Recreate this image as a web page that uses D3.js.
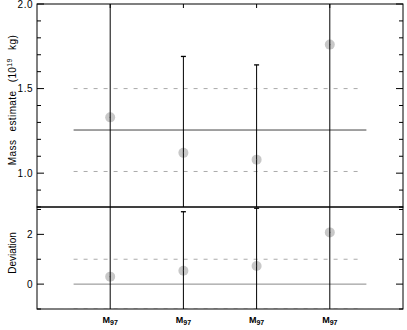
<!DOCTYPE html>
<html>
<head>
<meta charset="utf-8">
<script src="https://cdn.jsdelivr.net/npm/d3@7"></script>
<style>
  body { margin: 0; background: #fff; }
  text { font-family: "Liberation Sans", Arial, sans-serif; fill: #000; }
</style>
</head>
<body>
<svg id="chart"></svg>
<script>
var w = 407;
var h = 330;

// data
var categories = ['M97', 'M97', 'M97', 'M97'];
var mass = [1.33, 1.12, 1.08, 1.76];
var massErr = [0.9, 0.57, 0.56, 1.0];
var massMean = 1.255;
var massSpread = 0.245;
var dev = [0.3, 0.54, 0.73, 2.08];
var devErr = [3.5, 2.37, 2.32, 3.5];
var devMean = 0;
var devBand = 1;
var massTicks = [1.0, 1.5, 2.0];
var devTicks = [0, 2];

var padL = 37, padR = 403, padT = 4, padM = 207, padB = 309;

var svg = d3.select('#chart').attr('width', w).attr('height', h);

var x = d3.scaleLinear().domain([0, categories.length + 1]).range([padL, padR]);
var yTop = d3.scaleLinear().domain([0.8, 2.0]).range([padM, padT]);
var yBot = d3.scaleLinear().domain([-1, 3.1]).range([padB, padM]);

svg.append('defs').selectAll('clipPath')
  .data([['clipTop', padT, padM], ['clipBot', padM, padB]])
  .enter().append('clipPath')
  .attr('id', function (d) { return d[0]; })
  .append('rect')
  .attr('x', padL).attr('y', function (d) { return d[1]; })
  .attr('width', padR - padL)
  .attr('height', function (d) { return d[2] - d[1]; });

function panel(y, vals, errs, mean, lo, hi, clip, minorStep, majorTicks, fmt) {
  var g = svg.append('g');
  var c = g.append('g').attr('clip-path', 'url(#' + clip + ')');

  // reference lines
  c.append('line')
    .attr('x1', x(0.5)).attr('x2', x(categories.length + 0.5))
    .attr('y1', y(mean)).attr('y2', y(mean))
    .style('stroke', mean === 0 ? '#888' : '#444').style('stroke-width', 1);
  c.selectAll('line.dash')
    .data([lo, hi])
    .enter().append('line')
    .attr('class', 'dash')
    .attr('x1', x(0.5)).attr('x2', x(categories.length + 0.45))
    .attr('y1', function (d) { return y(d); })
    .attr('y2', function (d) { return y(d); })
    .style('stroke', '#aaa').style('stroke-width', 1)
    .style('stroke-dasharray', '4,6');

  // points
  c.selectAll('circle.pt')
    .data(vals)
    .enter().append('circle')
    .attr('class', 'pt')
    .attr('cx', function (d, i) { return x(i + 1); })
    .attr('cy', function (d) { return y(d); })
    .attr('r', 5)
    .style('fill', '#c8c8c8');

  // error bars
  c.selectAll('line.err')
    .data(vals)
    .enter().append('line')
    .attr('class', 'err')
    .attr('x1', function (d, i) { return x(i + 1); })
    .attr('x2', function (d, i) { return x(i + 1); })
    .attr('y1', function (d, i) { return y(d + errs[i]); })
    .attr('y2', function (d, i) { return y(d - errs[i]); })
    .style('stroke', '#000').style('stroke-width', 1);
  [1, -1].forEach(function (s) {
    c.selectAll('line.cap' + (s > 0 ? 'u' : 'd'))
      .data(vals)
      .enter().append('line')
      .attr('x1', function (d, i) { return x(i + 1) - 2.5; })
      .attr('x2', function (d, i) { return x(i + 1) + 2.5; })
      .attr('y1', function (d, i) { return y(d + s * errs[i]); })
      .attr('y2', function (d, i) { return y(d + s * errs[i]); })
      .style('stroke', '#000').style('stroke-width', 1.3);
  });
  c.selectAll('rect.dot')
    .data(vals)
    .enter().append('rect')
    .attr('x', function (d, i) { return x(i + 1) - 0.5; })
    .attr('y', function (d) { return y(d) - 0.5; })
    .attr('width', 1).attr('height', 1)
    .style('fill', '#333');

  // ticks
  var dom = y.domain();
  var minor = d3.range(Math.ceil(dom[0] / minorStep - 1e-6) * minorStep, dom[1] + 1e-9, minorStep);
  var isMajor = function (v) {
    return majorTicks.some(function (m) { return Math.abs(m - v) < 1e-6; });
  };
  g.selectAll('line.lt')
    .data(minor)
    .enter().append('line')
    .attr('x1', padL).attr('x2', function (d) { return padL + (isMajor(d) ? 7 : 4); })
    .attr('y1', function (d) { return y(d); }).attr('y2', function (d) { return y(d); })
    .style('stroke', '#000');
  g.selectAll('line.rt')
    .data(minor)
    .enter().append('line')
    .attr('x1', padR).attr('x2', function (d) { return padR - (isMajor(d) ? 7 : 4); })
    .attr('y1', function (d) { return y(d); }).attr('y2', function (d) { return y(d); })
    .style('stroke', '#000');
  g.selectAll('text.tl')
    .data(majorTicks)
    .enter().append('text')
    .attr('x', padL - 4)
    .attr('y', function (d) { return y(d) + 3.5; })
    .attr('text-anchor', 'end')
    .style('font-size', '10px')
    .style('letter-spacing', '0.5px')
    .text(fmt);

  // frame
  g.append('rect')
    .attr('x', padL).attr('y', y.range()[1])
    .attr('width', padR - padL).attr('height', y.range()[0] - y.range()[1])
    .style('fill', 'none').style('stroke', '#000').style('stroke-width', 1);
}

panel(yTop, mass, massErr, massMean, massMean - massSpread, massMean + massSpread,
  'clipTop', 0.1, massTicks, d3.format('.1f'));
panel(yBot, dev, devErr, devMean, devMean - devBand, devMean + devBand,
  'clipBot', 1, devTicks, d3.format('d'));

// category ticks on top edge
svg.selectAll('line.ct')
  .data(categories)
  .enter().append('line')
  .attr('x1', function (d, i) { return x(i + 1); })
  .attr('x2', function (d, i) { return x(i + 1); })
  .attr('y1', padT).attr('y2', padT + 4)
  .style('stroke', '#000');

// category labels
var lab = svg.selectAll('text.cat')
  .data(categories)
  .enter().append('text')
  .attr('x', function (d, i) { return x(i + 1); })
  .attr('y', 323)
  .attr('text-anchor', 'middle')
  .style('font-size', '9px')
  .style('font-weight', 'bold');
lab.append('tspan').text(function (d) { return d.charAt(0); });
lab.append('tspan').attr('dy', 2).style('font-size', '7px').text(function (d) { return d.slice(1); });

// axis titles
var t1 = svg.append('text')
  .attr('transform', 'translate(16,100) rotate(-90)')
  .attr('text-anchor', 'middle')
  .style('font-size', '10px')
  .style('letter-spacing', '0.4px')
  .style('word-spacing', '5px');
t1.append('tspan').text('Mass estimate (10');
t1.append('tspan').attr('dy', -4).style('font-size', '7px').text('19');
t1.append('tspan').attr('dy', 4).text(' kg)');

svg.append('text')
  .attr('transform', 'translate(16,253) rotate(-90)')
  .attr('text-anchor', 'middle')
  .style('font-size', '10px')
  .text('Deviation');
</script>
</body>
</html>
